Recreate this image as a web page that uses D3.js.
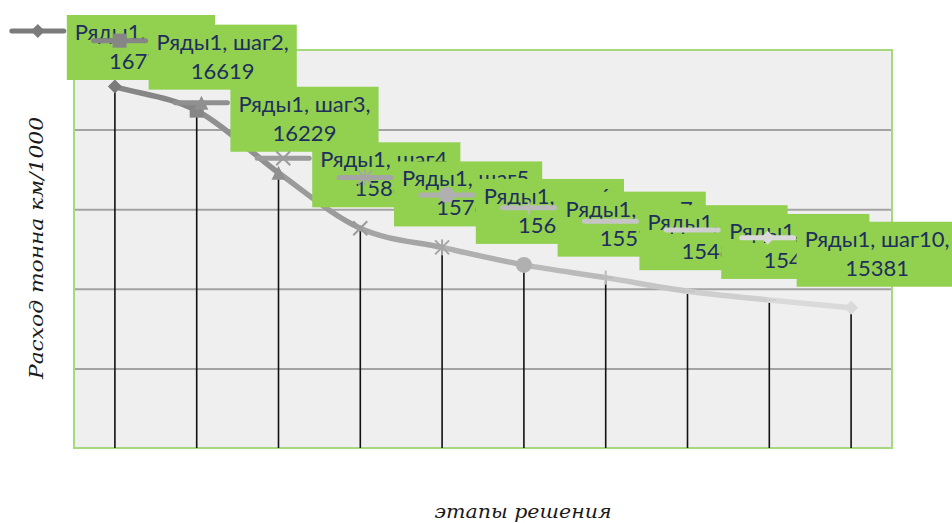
<!DOCTYPE html>
<head>
  <meta charset="utf-8">
  <script src="https://d3js.org/d3.v7.min.js"></script>
  <style>
    body { margin:0; background:#fff; }
    .grid line { stroke:#a3a3a3; stroke-width:2; }
    .grid path { display:none; }
    .lbl text { font-family:Lato, "Open Sans", sans-serif; font-size:22px; fill:#1f2f5c; }
    .title { font-family:"DejaVu Serif", serif; font-style:italic; font-size:19px; fill:#1a1a1a; }
  </style>
</head>

<body>
  <script>
  // ---------- data ---------------
    var seriesName = "Ряды1";
    var steps = ["шаг1", "шаг2", "шаг3", "шаг4", "шаг5", "шаг6", "шаг7", "шаг8", "шаг9", "шаг10"];
    var values = [16770, 16619, 16229, 15880, 15760, 15650, 15570, 15485, 15430, 15381];
    var yTicks = [14500, 15000, 15500, 16000, 16500, 17000];
    var yTitle = "Расход тонна км/1000";
    var xTitle = "этапы решения";

  // ---------- svg + scales ---------------
    var W = 952, H = 523;
    var plot = {left: 74, right: 892, top: 50, bottom: 448};

    var svg = d3.select("body").append("svg")
      .attr("width", W)
      .attr("height", H);

    var x = d3.scaleBand().domain(steps).range([plot.left, plot.right]);
    var y = d3.scaleLinear().domain([14500, 17000]).range([plot.bottom, plot.top]);
    var shade = d3.scaleLinear().domain([0, steps.length - 1]).range(["#7b7b7b", "#dadada"]);
    var markerTypes = ["diamond", "square", "triangle", "x", "star", "circle", "plus", "dash", "dash", "diamond"];

    var pts = steps.map(function(s, i) {
      return {step: s, value: values[i], i: i, x: x(s) + x.bandwidth() / 2, y: y(values[i])};
    });

  // ---------- plot area ---------------
    svg.append("rect")
      .attr("x", plot.left).attr("y", plot.top)
      .attr("width", plot.right - plot.left).attr("height", plot.bottom - plot.top)
      .attr("fill", "#efefef");

    svg.append("g")
      .attr("class", "grid")
      .attr("transform", "translate(" + plot.left + ",0)")
      .call(d3.axisLeft(y).tickValues(yTicks.slice(1, -1)).tickSize(-(plot.right - plot.left)).tickFormat(""));

    svg.append("rect")
      .attr("x", plot.left).attr("y", plot.top)
      .attr("width", plot.right - plot.left).attr("height", plot.bottom - plot.top)
      .attr("fill", "none").attr("stroke", "#a6d97e").attr("stroke-width", 2);

    // drop lines
    svg.selectAll(".drop").data(pts).enter().append("line")
      .attr("x1", d => d.x).attr("x2", d => d.x)
      .attr("y1", d => d.y).attr("y2", plot.bottom)
      .attr("stroke", "#111").attr("stroke-width", 1.6);

  // ---------- smoothed line, one piece per segment ---------------
    function segPath(i) {
      var p1 = pts[i], p2 = pts[i + 1];
      var p0 = i > 0 ? pts[i - 1] : {x: 2 * p1.x - p2.x, y: 2 * p1.y - p2.y};
      var p3 = i + 2 < pts.length ? pts[i + 2] : {x: 2 * p2.x - p1.x, y: 2 * p2.y - p1.y};
      var c1x = p1.x + (p2.x - p0.x) / 6, c1y = p1.y + (p2.y - p0.y) / 6;
      var c2x = p2.x - (p3.x - p1.x) / 6, c2y = p2.y - (p3.y - p1.y) / 6;
      return "M" + p1.x + "," + p1.y + "C" + c1x + "," + c1y + " " + c2x + "," + c2y + " " + p2.x + "," + p2.y;
    }
    svg.selectAll(".seg").data(d3.range(pts.length - 1)).enter().append("path")
      .attr("d", segPath)
      .attr("fill", "none")
      .attr("stroke", i => shade(i + 1))
      .attr("stroke-width", 5.5)
      .attr("stroke-linecap", "round");

  // ---------- markers ---------------
    function drawMarker(g, type, color) {
      var s = 7;
      if (type == "diamond") g.append("path").attr("d", "M0,-" + s + "L" + s + ",0L0," + s + "L-" + s + ",0Z").attr("fill", color);
      if (type == "square") g.append("rect").attr("x", -s).attr("y", -s).attr("width", 2 * s).attr("height", 2 * s).attr("fill", color);
      if (type == "triangle") g.append("path").attr("d", "M0,-" + s + "L" + s + "," + s + "L-" + s + "," + s + "Z").attr("fill", color);
      if (type == "circle") g.append("circle").attr("r", s + 1).attr("fill", color);
      var strokes = [];
      if (type == "x") strokes = [[-s, -s, s, s], [-s, s, s, -s]];
      if (type == "star") strokes = [[-s, -s, s, s], [-s, s, s, -s], [0, -s - 1, 0, s + 1]];
      if (type == "plus") strokes = [[0, -s, 0, s], [-s, 0, s, 0]];
      if (type == "dash") strokes = [[-s, 0, s, 0]];
      strokes.forEach(function(l) {
        g.append("line").attr("x1", l[0]).attr("y1", l[1]).attr("x2", l[2]).attr("y2", l[3])
          .attr("stroke", color).attr("stroke-width", 2);
      });
    }

    pts.forEach(function(d) {
      var g = svg.append("g").attr("transform", "translate(" + d.x + "," + d.y + ")");
      drawMarker(g, markerTypes[d.i], shade(d.i));
    });

  // ---------- data labels (key + green box + text), later ones on top ---------------
    pts.forEach(function(d) {
      var g = svg.append("g").attr("class", "lbl");
      var cx = d.x + 26;
      var top = Math.max(15, d.y - 86);

      var key = g.append("g");
      var box = g.append("rect").attr("fill", "#92d050");
      var t1 = g.append("text").attr("x", cx).attr("y", top + 25).attr("text-anchor", "middle")
        .text(seriesName + ", " + d.step + ",");
      g.append("text").attr("x", cx).attr("y", top + 54).attr("text-anchor", "middle")
        .text(d.value);

      var tw = t1.node().getComputedTextLength();
      var left = cx - tw / 2 - 8;
      box.attr("x", left).attr("y", top).attr("width", tw + 16).attr("height", 65);

      key.append("line")
        .attr("x1", left - 55).attr("x2", left - 3)
        .attr("y1", top + 16).attr("y2", top + 16)
        .attr("stroke", shade(d.i)).attr("stroke-width", 5).attr("stroke-linecap", "round");
      drawMarker(key.append("g").attr("transform", "translate(" + (left - 29) + "," + (top + 16) + ")"), markerTypes[d.i], shade(d.i));
    });

  // ---------- axis titles ---------------
    svg.append("text")
      .attr("class", "title")
      .attr("transform", "translate(43,248) rotate(-90)")
      .attr("text-anchor", "middle")
      .attr("textLength", 262).attr("lengthAdjust", "spacingAndGlyphs")
      .text(yTitle);

    svg.append("text")
      .attr("class", "title")
      .attr("x", 523).attr("y", 518)
      .attr("text-anchor", "middle")
      .attr("textLength", 177).attr("lengthAdjust", "spacingAndGlyphs")
      .text(xTitle);
  </script>
</body>
